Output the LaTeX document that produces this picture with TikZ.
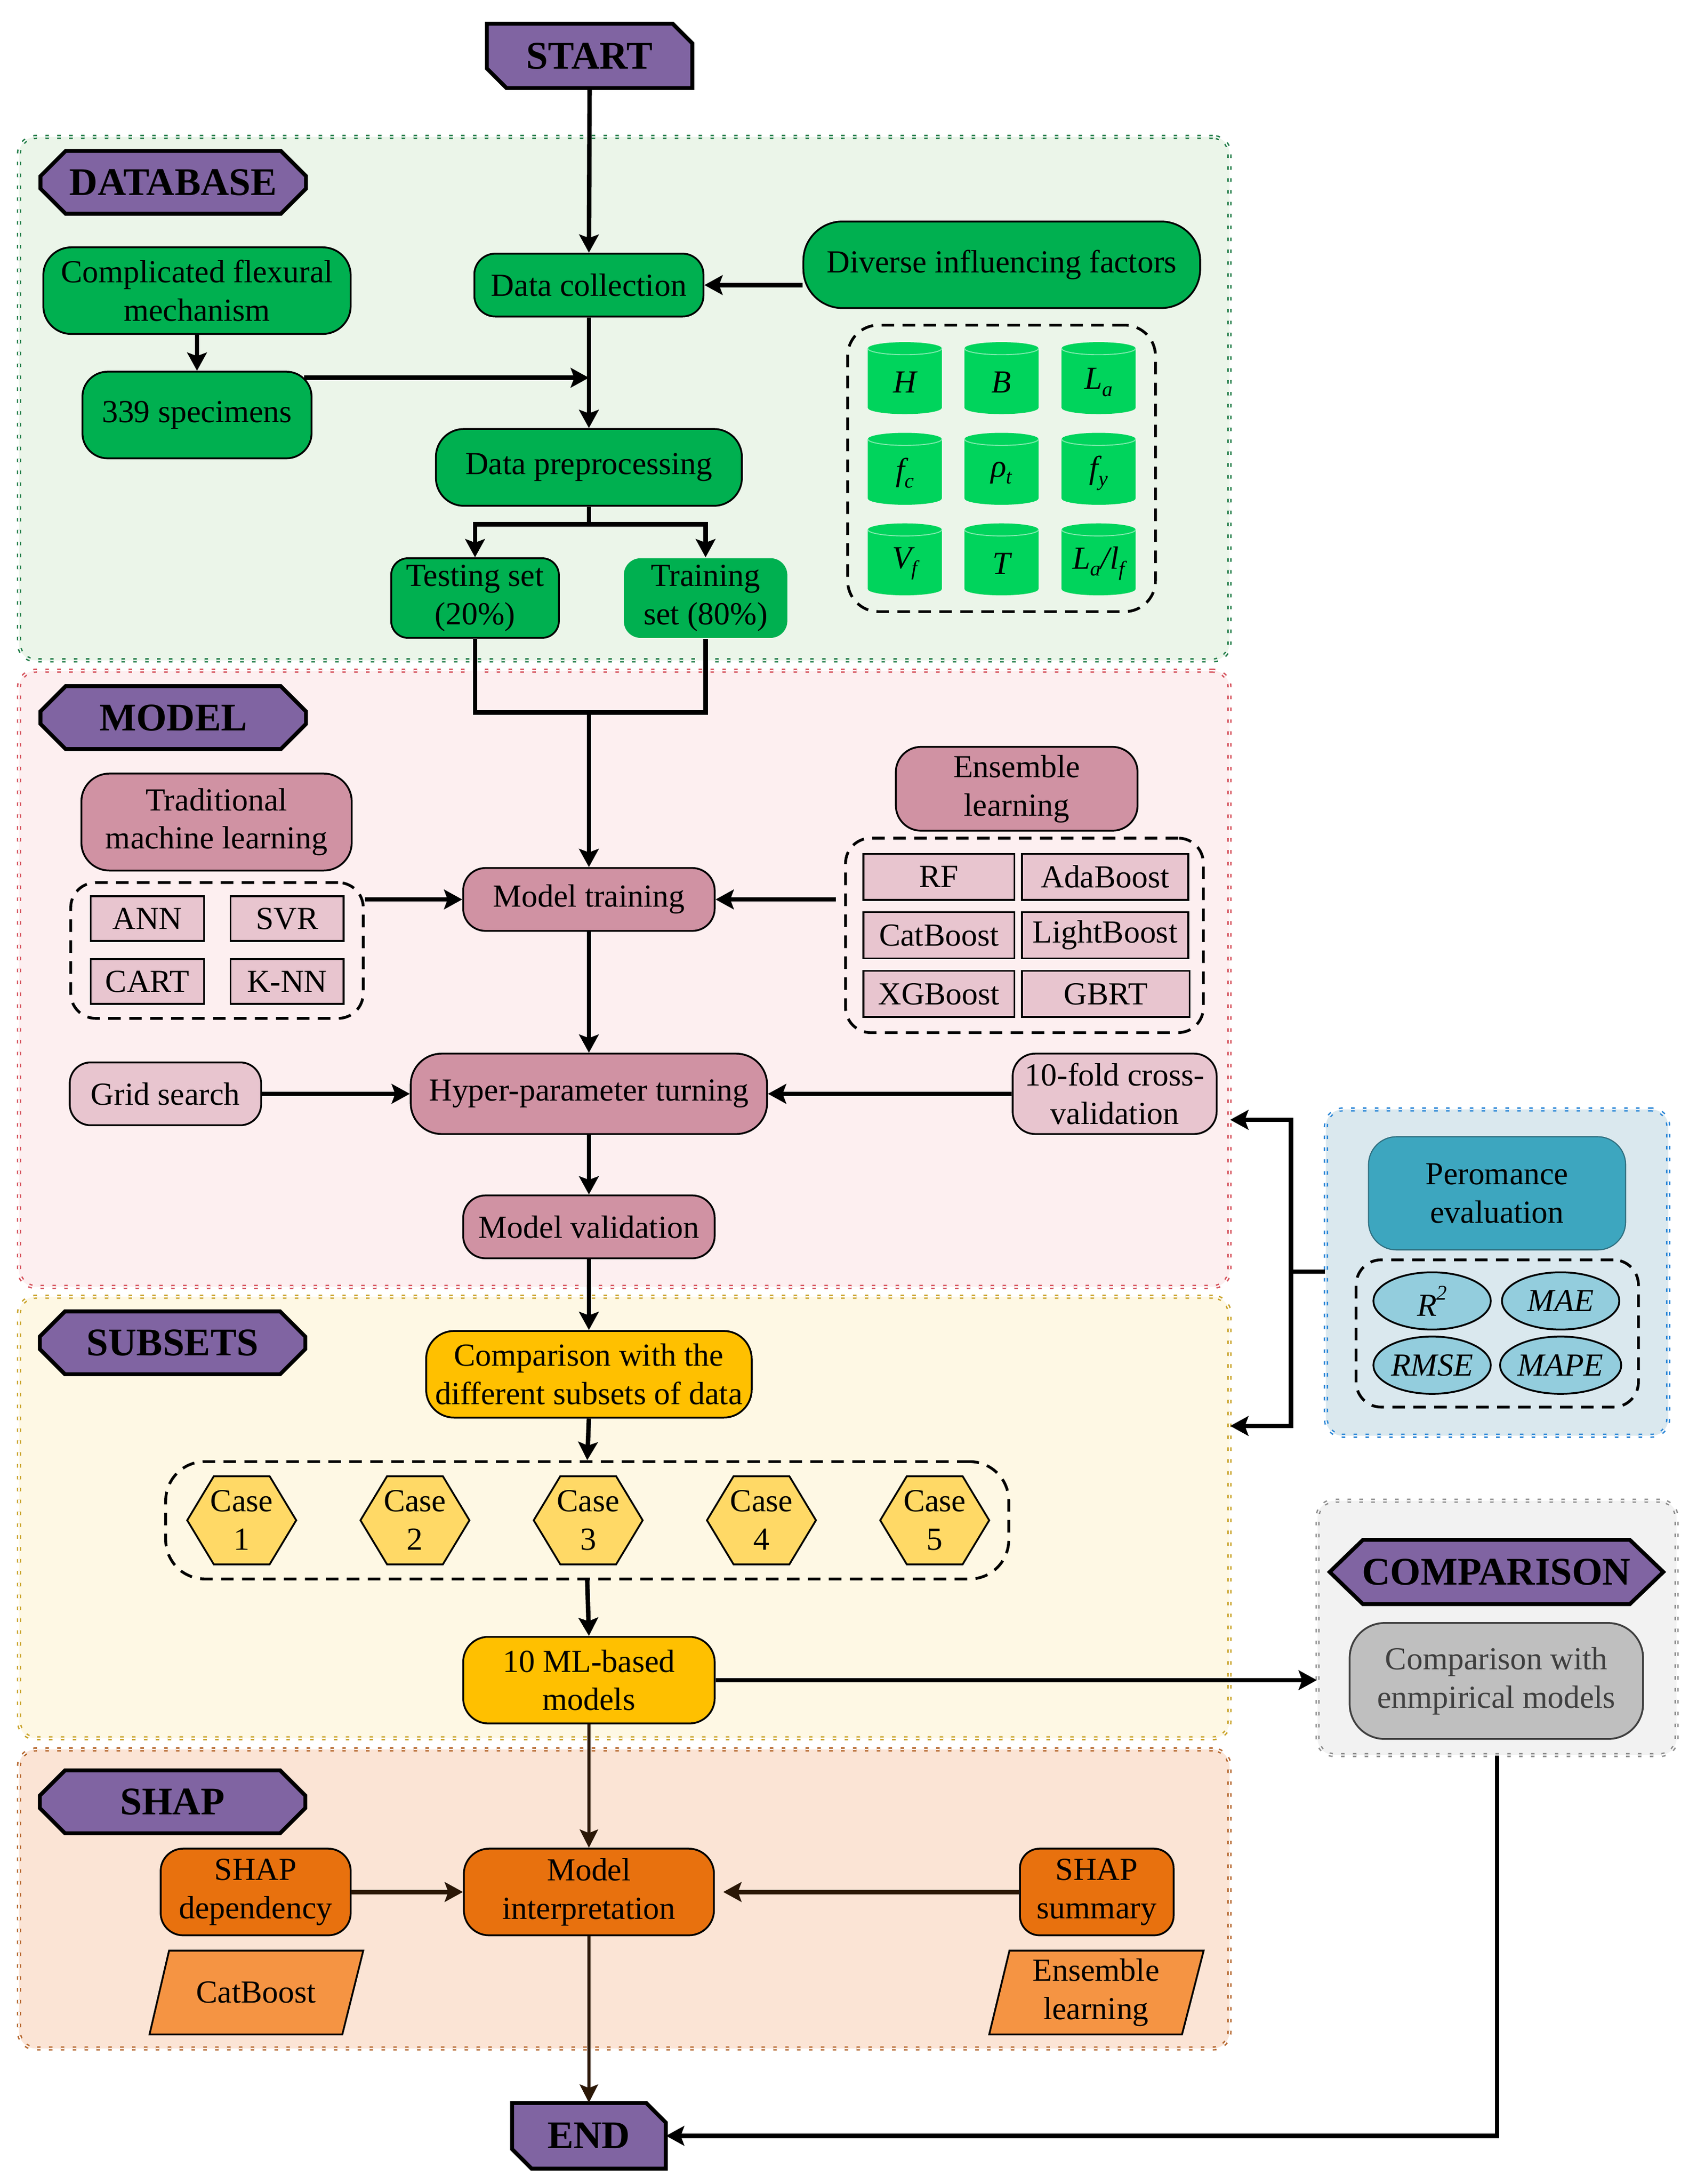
\documentclass[tikz,border=0pt]{standalone}
\usepackage{fontspec}
\setmainfont{Liberation Serif}
\usetikzlibrary{arrows.meta,calc,shapes.geometric}
\definecolor{cPurple}{HTML}{8064A2}
\definecolor{cGreen}{HTML}{00B050}
\definecolor{cCyl}{HTML}{00D45C}
\definecolor{cCylLine}{HTML}{7FEAAE}
\definecolor{cDBfill}{HTML}{EBF5E9}
\definecolor{cDBline}{HTML}{1E7B45}
\definecolor{cMauve}{HTML}{D092A3}
\definecolor{cPink}{HTML}{E8C5CF}
\definecolor{cMODfill}{HTML}{FDEFF0}
\definecolor{cMODline}{HTML}{D5505A}
\definecolor{cGold}{HTML}{FFC000}
\definecolor{cHex}{HTML}{FFD966}
\definecolor{cSUBfill}{HTML}{FEF8E4}
\definecolor{cSUBline}{HTML}{C9A227}
\definecolor{cTeal}{HTML}{3DA6BF}
\definecolor{cTealLine}{HTML}{2F6F80}
\definecolor{cEll}{HTML}{93CDDD}
\definecolor{cPERfill}{HTML}{DAE8EE}
\definecolor{cPERline}{HTML}{2A86D6}
\definecolor{cGray}{HTML}{BFBFBF}
\definecolor{cCMPfill}{HTML}{F2F2F2}
\definecolor{cCMPline}{HTML}{8C8C8C}
\definecolor{cOrange}{HTML}{E8710E}
\definecolor{cPara}{HTML}{F59443}
\definecolor{cSHAPfill}{HTML}{FBE4D5}
\definecolor{cSHAPline}{HTML}{B5652B}
\definecolor{cBrown}{HTML}{2B1706}
\definecolor{cDarkText}{HTML}{3F3F3F}

\newcommand\myfs{\fontsize{23}{27.5}\selectfont}
\newcommand\myfb{\fontsize{28}{32}\selectfont\bfseries}
\newcommand\mysub[1]{\raisebox{-0.22em}{\fontsize{15}{15}\selectfont #1}}
\newcommand\mysup[1]{\raisebox{0.5em}{\fontsize{15}{15}\selectfont #1}}

\tikzset{
  nbox/.style={draw=black, line width=1.3pt, rounded corners=#1, align=center, font=\myfs, inner sep=0pt},
  nbox/.default=14pt,
  sbox/.style={draw=black, line width=1.3pt, fill=cPink, align=center, font=\myfs, inner sep=0pt},
  sz/.style 2 args={minimum width=#1pt, minimum height=#2pt},
  regn/.style 2 args={fill=#1, draw=#2, line width=1pt, double=white, double distance=1pt, dash pattern=on 2.5pt off 6pt, rounded corners=12pt, inner sep=0pt},
  grp/.style={draw=black, line width=2pt, dash pattern=on 9pt off 6pt, rounded corners=#1, inner sep=0pt},
  grp/.default=18pt,
  conn/.style={line width=3.2pt},
  arr/.style={line width=3.2pt, -{Stealth[length=13pt,width=14pt,inset=2.5pt]}},
  brarr/.style={draw=cBrown, line width=2.4pt, -{Stealth[length=13pt,width=13pt,inset=2.5pt]}},
  brharr/.style={draw=cBrown, line width=3.4pt, -{Stealth[length=13pt,width=14pt,inset=2.5pt]}},
  lab/.style={fill=cPurple, draw=black, line width=2.8pt, line join=miter},
  labtext/.style={font=\myfb, inner sep=0pt},
  txt/.style={font=\myfs, align=center, inner sep=0pt},
  ell/.style={ellipse, draw=black, line width=1.3pt, fill=cEll, font=\myfs\itshape, inner sep=0pt, minimum width=84pt, minimum height=41pt},
  para/.style={fill=cPara, draw=black, line width=1.3pt}
}

\newcommand\seclab[4]{%
  \filldraw[lab] (#2-95,-#3+4.5) -- (#2-77,-#3+22.5) -- (#2+77,-#3+22.5) -- (#2+95,-#3+4.5) -- (#2+95,-#3-4.5) -- (#2+77,-#3-22.5) -- (#2-77,-#3-22.5) -- (#2-95,-#3-4.5) -- cycle;
  \node[labtext] (#1) at (#2,-#3) {#4};}
\newcommand\termnode[6]{%
  \filldraw[lab] (#2-#4/2,-#3+#5/2) -- (#2+#4/2-14,-#3+#5/2) -- (#2+#4/2,-#3+#5/2-14) -- (#2+#4/2,-#3-#5/2) -- (#2-#4/2+14,-#3-#5/2) -- (#2-#4/2,-#3-#5/2+14) -- cycle;
  \node[labtext, minimum width=#4pt, minimum height=#5pt] (#1) at (#2,-#3) {#6};}
\newcommand\cyl[4]{%
  \fill[cCyl] (#2-26.5,-#3+21.25) -- (#2-26.5,-#3-21.25) arc[start angle=180,end angle=360,x radius=26.5,y radius=4.5] -- (#2+26.5,-#3+21.25) arc[start angle=0,end angle=180,x radius=26.5,y radius=4.5] -- cycle;
  \draw[cCylLine, line width=0.7pt] (#2-26.5,-#3+21.25) arc[start angle=180,end angle=360,x radius=26.5,y radius=4.5];
  \node[font=\myfs\itshape, inner sep=0pt] (#1) at (#2,-#3-3) {#4};}
\newcommand\casehex[4]{%
  \filldraw[fill=cHex, draw=black, line width=1.3pt] (#2-39,-#3) -- (#2-20,-#3+31.5) -- (#2+20,-#3+31.5) -- (#2+39,-#3) -- (#2+20,-#3-31.5) -- (#2-20,-#3-31.5) -- cycle;
  \node[txt] (#1) at (#2,-#3) {Case\\#4};}

\begin{document}
\begin{tikzpicture}[x=1pt,y=1pt]
\useasboundingbox (0,0) rectangle (1220,-1563);
\fill[white] (0,0) rectangle (1220,-1563);

% ---------- regions ----------
\node[regn={cDBfill}{cDBline}, sz={866.4}{374.6}] (rDB) at (446.8,-285.3) {};
\node[regn={cMODfill}{cMODline}, sz={866.4}{441}] (rMOD) at (446.8,-700.5) {};
\node[regn={cSUBfill}{cSUBline}, sz={866.4}{316}] (rSUB) at (446.8,-1086) {};
\node[regn={cSHAPfill}{cSHAPline}, sz={866.4}{214}] (rSHAP) at (446.8,-1359) {};
\node[regn={cPERfill}{cPERline}, sz={245}{233.5}] (rPER) at (1071.5,-910.75) {};
\node[regn={cCMPfill}{cCMPline}, sz={257}{182}] (rCMP) at (1071.5,-1165) {};

% ---------- purple labels ----------
\termnode{start}{422}{40}{147}{46}{START}
\seclab{lDB}{124}{130.5}{DATABASE}
\seclab{lMOD}{124}{513.6}{MODEL}
\seclab{lSUB}{123.5}{961}{SUBSETS}
\seclab{lSHAP}{123.5}{1289.5}{SHAP}
\filldraw[lab] (951.7,-1125) -- (975.5,-1102) -- (1166.5,-1102) -- (1190.5,-1125) -- (1166.5,-1148) -- (975.5,-1148) -- cycle;
\node[labtext] (lCMP) at (1071,-1125) {COMPARISON};
\termnode{end}{421.5}{1528.5}{110}{47}{END}

% ---------- DATABASE ----------
\node[nbox=20pt, fill=cGreen, sz={220}{62}] (cfm) at (141,-208) {Complicated flexural\\mechanism};
\node[nbox=18pt, fill=cGreen, sz={164}{62}] (spec) at (141,-297) {339 specimens};
\node[nbox=15pt, fill=cGreen, sz={164}{45}] (dcol) at (421.5,-204) {Data collection};
\node[nbox=20pt, fill=cGreen, sz={219}{55}] (dpre) at (421.5,-334.5) {Data preprocessing};
\node[nbox=12pt, fill=cGreen, sz={120}{57}] (test) at (340,-428) {Testing set\\(20\%)};
\node[nbox=12pt, fill=cGreen, draw=none, sz={117}{57}] (train) at (505,-428) {Training\\set (80\%)};
\node[nbox=28pt, fill=cGreen, sz={284}{62}] (div) at (717,-189.5) {Diverse influencing factors};
\node[grp=22pt, sz={220.3}{205}] (gDB) at (716.85,-335.2) {};
\cyl{cH}{647.6}{270.6}{H}
\cyl{cB}{716.8}{270.6}{B}
\cyl{cLa}{786.3}{270.6}{L\mysub{a}}
\cyl{cfc}{647.6}{335.5}{f\mysub{c}}
\cyl{crho}{716.8}{335.5}{ρ\mysub{t}}
\cyl{cfy}{786.3}{335.5}{f\mysub{y}}
\cyl{cVf}{647.6}{400.3}{V\mysub{f}}
\cyl{cT}{716.8}{400.3}{T}
\cyl{cLl}{786.3}{400.3}{L\mysub{a}/l\mysub{f}}

% ---------- MODEL ----------
\node[nbox=20pt, fill=cMauve, sz={193.5}{69.4}] (tml) at (155,-588.3) {Traditional\\machine learning};
\node[grp=18pt, sz={209.4}{97.2}] (gTML) at (155.3,-680.2) {};
\node[sbox, sz={81}{32}] (ann) at (105.5,-657.5) {ANN};
\node[sbox, sz={81}{32}] (svr) at (205.5,-657.5) {SVR};
\node[sbox, sz={81}{32}] (cart) at (105.5,-702.5) {CART};
\node[sbox, sz={81}{32}] (knn) at (205.5,-702.5) {K-NN};
\node[nbox=16pt, fill=cMauve, sz={180}{45}] (mtrain) at (421.5,-643.7) {Model training};
\node[nbox=18pt, fill=cMauve, sz={173}{60}] (ens) at (727.7,-564.5) {Ensemble\\learning};
\node[grp=18pt, sz={256.1}{139.2}] (gENS) at (733.25,-669.4) {};
\node[sbox, sz={108}{33}] (rf) at (672,-627.5) {RF};
\node[sbox, sz={119}{33}] (ada) at (791,-627.5) {AdaBoost};
\node[sbox, sz={108}{33}] (cat) at (672,-669.3) {CatBoost};
\node[sbox, sz={119}{33}] (light) at (791,-669.3) {LightBoost};
\node[sbox, sz={108}{33}] (xgb) at (672,-711.3) {XGBoost};
\node[sbox, sz={120}{33}] (gbrt) at (791.5,-711.3) {GBRT};
\node[nbox=15pt, fill=cPink, sz={137}{45}] (grid) at (118.4,-782.8) {Grid search};
\node[nbox=22pt, fill=cMauve, sz={255}{57.5}] (hyper) at (421.5,-782.8) {Hyper-parameter turning};
\node[nbox=16pt, fill=cPink, sz={146}{57.5}] (tenf) at (797.8,-782.8) {10-fold cross-\\validation};
\node[nbox=16pt, fill=cMauve, sz={180}{45}] (mval) at (421.5,-878) {Model validation};

% ---------- SUBSETS ----------
\node[nbox=20pt, fill=cGold, sz={233}{62}] (csub) at (421.5,-983.5) {Comparison with the\\different subsets of data};
\node[grp=28pt, sz={603.4}{84}] (gCASE) at (420.3,-1088) {};
\casehex{case1}{173}{1088}{1}
\casehex{case2}{297}{1088}{2}
\casehex{case3}{421}{1088}{3}
\casehex{case4}{545}{1088}{4}
\casehex{case5}{669}{1088}{5}
\node[nbox=18pt, fill=cGold, sz={180}{62}] (ml10) at (421.5,-1202.4) {10 ML-based\\models};

% ---------- PERFORMANCE ----------
\node[nbox=20pt, fill=cTeal, draw=cTealLine, line width=0.8pt, sz={184}{81}] (perf) at (1071.5,-854) {Peromance\\evaluation};
\node[grp=18pt, sz={202.1}{105.4}] (gPER) at (1071.65,-954.3) {};
\node[ell] (er2) at (1025,-931) {R\mysup{2}};
\node[ell] (emae) at (1117,-931) {MAE};
\node[ell] (ermse) at (1025,-977) {RMSE};
\node[ell] (emape) at (1117,-977) {MAPE};

% ---------- COMPARISON ----------
\node[nbox=25pt, fill=cGray, draw=cDarkText, text=cDarkText, sz={210}{83}] (cemp) at (1071,-1203) {Comparison with\\enmpirical models};

% ---------- SHAP ----------
\node[nbox=16pt, fill=cOrange, sz={136}{62}] (sdep) at (183,-1354) {SHAP\\dependency};
\node[nbox=18pt, fill=cOrange, sz={179}{62}] (mint) at (421.5,-1354) {Model\\interpretation};
\node[nbox=14pt, fill=cOrange, sz={110}{62}] (ssum) at (785,-1354) {SHAP\\summary};
\filldraw[para] (121,-1396) -- (260,-1396) -- (245,-1456) -- (107,-1456) -- cycle;
\node[txt] (pcat) at (183.25,-1426) {CatBoost};
\filldraw[para] (722.5,-1396) -- (861.5,-1396) -- (846,-1456) -- (708,-1456) -- cycle;
\node[txt] (pens) at (784.5,-1426) {Ensemble\\learning};

% ---------- connectors ----------
\draw[arr] (start.south) -- (dcol.north);
\draw[arr] (dcol.east -| div.west) -- (dcol.east);
\draw[arr] (dcol.south) -- (dpre.north);
\draw[arr] (cfm.south) -- (spec.north);
\coordinate (sA) at ($(spec.north east)+(-6,-5)$);
\draw[arr] (sA) -- (sA -| dcol.south);
\coordinate (sp) at ($(dpre.south)+(0,-12.5)$);
\draw[conn] (dpre.south) -- (sp);
\draw[arr] (sp) -| (test.north);
\draw[arr] (sp) -| (train.north);
\coordinate (jn) at (421.5,-510);
\draw[conn] (test.south) |- (jn) -| (train.south);
\draw[arr] (jn) -- (mtrain.north);
\draw[arr] (gTML.east |- mtrain.west) -- (mtrain.west);
\coordinate (eA) at (gENS.west |- mtrain.east);
\draw[arr] ($(eA)+(-6,0)$) -- (mtrain.east);
\draw[arr] (mtrain.south) -- (hyper.north);
\draw[arr] (grid.east) -- (hyper.west);
\draw[arr] (tenf.west) -- (hyper.east);
\draw[arr] (hyper.south) -- (mval.north);
\draw[arr] (mval.south) -- (csub.north);
\draw[arr] (csub.south) -- (gCASE.north);
\draw[arr] (gCASE.south) -- (ml10.north);
\draw[arr] (ml10.east) -- (ml10.east -| rCMP.west);
\coordinate (pj) at (924,-910);
\coordinate (yA) at (0,-801.4);
\coordinate (yB) at (0,-1020.5);
\draw[conn] (rPER.west |- pj) -- (pj);
\draw[arr] (pj) |- (rMOD.east |- yA);
\draw[arr] (pj) |- (rSUB.east |- yB);
\draw[brarr] (ml10.south) -- (mint.north);
\draw[brharr] (sdep.east) -- (mint.west);
\draw[brharr, shorten >=6pt] (ssum.west) -- (mint.east);
\draw[brarr] (mint.south) -- (end.north);
\draw[arr] (rCMP.south) |- (end.east);
\end{tikzpicture}
\end{document}
